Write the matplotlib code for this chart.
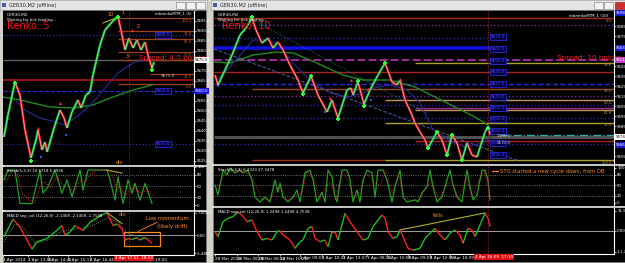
import numpy as np
import matplotlib
matplotlib.use('Agg')
import matplotlib.pyplot as plt
from matplotlib.collections import LineCollection
from matplotlib.patches import Rectangle
from matplotlib.transforms import blended_transform_factory

W, H = 625, 263
CHROME = '#d4d0c8'
ORANGE = '#ff8c1a'

# ---- left window: GER30 renko 5 ----
L_BARS = [1, 5, 12, 17, 22, 28, 33, 35, 39, 42, 44, 52, 57, 61, 64, 69, 75, 78, 83, 87,
          90, 97, 102, 109, 115, 119, 122, 126, 130, 134, 138, 142, 145, 149, 151]
L_PRICE = [9637, 9648, 9664.5, 9658, 9640.5, 9626.5, 9635.5, 9640.5, 9630.5, 9634.5,
           9629.5, 9643, 9650.5, 9646.5, 9641.5, 9649.5, 9655.5, 9651.5, 9658, 9659.5,
           9668, 9683, 9690.5, 9694.5, 9697.5, 9688, 9680.5, 9686.5, 9681.5, 9685.5,
           9680.5, 9684.5, 9678, 9671.5, 9674.5]
L_MA_FAST_BARS = [12, 22, 37, 52, 62, 72, 82, 92, 102, 109, 115, 122, 132, 142, 149]
L_MA_FAST = [9655.5, 9650.5, 9646.5, 9644.5, 9643, 9646.5, 9650.5, 9655.5, 9661.5,
             9665.5, 9669, 9671.5, 9674.5, 9675.5, 9676.5]
L_MA_SLOW_BARS = [0, 17, 47, 70, 90, 107, 130, 149]
L_MA_SLOW = [9657, 9655.5, 9652, 9651.5, 9653, 9656.5, 9660.5, 9663]
L_UP_BARS = [12, 28, 115, 149]
L_UP_PRICE = [9664, 9625, 9697, 9670.5]
L_DN_BARS = [57, 35, 129]
L_DN_PRICE = [9654, 9641.5, 9690.5]
L_DOT_BARS = [63, 38]
L_DOT_PRICE = [9638, 9627]
# price, colour, style, width, from bar, to bar
L_LEVELS = [
    (9688, '#2a2ab0', ':', 0.9, 0, 191),
    (9675.5, '#606060', '-', 1.0, 0, 191),
    (9665.5, '#9a1010', '-', 1.4, 0, 191),
    (9660, '#2a2ad0', '--', 0.8, 0, 191),
    (9633.5, '#2a2ab0', ':', 0.9, 0, 191),
    (9696.5, '#a04010', '-', 0.9, 115, 191),
    (9690, '#a04010', '-', 0.9, 115, 191),
    (9686, '#a04010', '-', 0.9, 115, 191),
    (9679.5, '#a04010', '-', 0.9, 115, 191),
    (9675.5, '#a04010', '-', 0.9, 115, 191),
    (9668.5, '#a04010', '-', 0.9, 147, 191),
    (9663.5, '#a04010', '-', 0.9, 115, 191),
]
L_FIB_PRICE = [9696.5, 9690, 9686, 9679.5, 9668.5, 9663.5]
L_FIB_TEXT = ['100.0', '76.4', '61.8', '50.0', '23.6', '0.0']
L_BOX_PRICE = [9688, 9660, 9633.5]
L_PRICE_TICKS = [9625, 9630, 9635, 9640, 9645, 9650, 9655, 9665, 9670, 9680, 9685,
                 9690, 9695]

L_STO_BARS = [1, 5, 12, 17, 29, 37, 40, 45, 52, 59, 64, 69, 77, 80, 85, 92, 104, 107,
              112, 115, 120, 125, 129, 132, 137, 142, 149]
L_STO = [66, 92, 92, 4, 4, 92, 31, 48, 92, 31, 66, 22, 92, 39, 92, 92, 92, 66, 13, 74,
         4, 66, 31, 57, 13, 57, 4]
L_SIG_BARS = [3, 7, 14, 19, 31, 39, 42, 47, 54, 61, 66, 71, 79, 82, 87, 94, 106, 109,
              114, 117, 122, 127, 131, 134, 139, 144, 151]
L_SIG = [60, 80, 92, 30, 4, 60, 60, 45, 75, 50, 50, 35, 70, 60, 80, 92, 92, 80, 40, 50,
         25, 40, 45, 40, 30, 40, 20]

L_MACD_BARS = [1, 10, 17, 29, 34, 39, 44, 52, 59, 62, 67, 72, 77, 80, 87, 97, 104, 110,
               114, 119, 122, 125, 129, 134, 137, 142, 149]
L_MACD = [-0.5, 5.0, 2.5, -4.3, -2.0, -1.5, -1.0, 1.0, 3.0, 0.0, 1.0, 3.0, 2.0, 1.5, 4.0,
          6.0, 7.0, 3.0, 3.5, 2.0, -1.5, -1.0, -1.3, -0.7, -1.5, -0.7, -2.5]
L_MACD_SIG_BARS = [1, 12, 20, 32, 45, 60, 75, 90, 105, 115, 125, 149]
L_MACD_SIG = [-2, 3.5, 2.5, -2.5, -1.5, 1.5, 2, 3, 5.5, 4, 0.5, -1.2]

L_TIME_BARS = [0, 25, 45, 65, 87, 140]
L_TIME_TEXT = ['4 Apr 2014', '4 Apr 13:06', '4 Apr 14:41', '4 Apr 15:17',
               '4 Apr 16:44', '4 Apr 19:00']

# ---- right window: GER30 renko 10 ----
R_BARS = [1, 4, 11, 18, 26, 32, 38, 42, 48, 54, 59, 64, 69, 76, 84, 89, 97, 104, 113, 118,
          124, 133, 137, 139, 144, 150, 156, 164, 171, 178, 183, 186, 191, 198, 201, 206,
          211, 214, 223, 228, 233, 238, 243, 248, 253, 258, 263, 271, 274, 276]
R_PRICE = [9636, 9626, 9641, 9656, 9676, 9683, 9693, 9681, 9668, 9673, 9663, 9669, 9661,
           9646, 9631, 9618, 9635, 9616, 9599, 9611, 9593, 9621, 9623, 9616, 9629, 9607,
           9621, 9636, 9648, 9629, 9626, 9631, 9611, 9596, 9588, 9579, 9571, 9563, 9579,
           9571, 9556, 9576, 9568, 9551, 9568, 9556, 9554, 9579, 9584, 9576]
R_MA_FAST_BARS = [3, 16, 39, 51, 63, 79, 96, 116, 133, 149, 163, 176, 193, 206, 218, 234,
                  251, 268, 276]
R_MA_FAST = [9631, 9644, 9671, 9671, 9668, 9648, 9631, 9618, 9614, 9618, 9624, 9626,
             9621, 9608, 9583, 9571, 9564, 9568, 9573]
R_MA_SLOW_BARS = [0, 16, 39, 63, 79, 96, 129, 149, 176, 201, 221, 241, 261, 274]
R_MA_SLOW = [9649, 9648, 9656, 9659, 9658, 9651, 9636, 9631, 9631, 9624, 9614, 9604,
             9594, 9586]
R_UP_BARS = [38, 89, 97, 124, 144, 150, 171, 214, 223, 233, 238, 248, 274]
R_UP_PRICE = [9694, 9617, 9635, 9592, 9630, 9605, 9648, 9563, 9579, 9556, 9576, 9551, 9583]
R_DN_BARS = [64, 116, 137, 154, 186]
R_DN_PRICE = [9669, 9613, 9631, 9622, 9632]
R_DOT_BARS = [4, 111, 157]
R_DOT_PRICE = [9625, 9599, 9611]
R_LEVELS = [
    (9693, '#a02a10', '-', 1.0, 0, 400),
    (9686, '#7a2a9a', ':', 1.0, 0, 400),
    (9673, '#2a2ab0', ':', 1.0, 0, 276),
    (9663, '#1010d8', '-', 2.6, 0, 276),
    (9651, '#9a2a9a', '--', 1.5, 0, 400),
    (9648, '#b0a020', '-', 1.0, 201, 400),
    (9639, '#a82020', '-', 1.0, 0, 400),
    (9627, '#2a2ae0', '--', 1.0, 0, 400),
    (9622, '#9a4a13', '-', 1.0, 38, 400),
    (9615, '#7a2a9a', ':', 1.0, 0, 400),
    (9611, '#c09060', '-', 1.0, 171, 400),
    (9606, '#2a2ab0', ':', 1.0, 0, 400),
    (9603, '#9a2a9a', '-', 1.0, 201, 400),
    (9601, '#c09060', '-', 1.0, 201, 400),
    (9593, '#2a2ab0', ':', 1.0, 0, 400),
    (9588, '#b0a020', '-', 1.0, 171, 400),
    (9574, '#505050', '-', 2.2, 0, 400),
    (9576, '#20b0b0', '-.', 0.9, 286, 400),
    (9570, '#a82020', '-', 1.0, 201, 400),
    (9567, '#2a2ab0', ':', 1.0, 0, 400),
    (9551, '#a02a10', '-', 1.0, 38, 171),
    (9551, '#b0a020', '-', 1.0, 171, 400),
]
R_FIB_PRICE = [9693, 9648, 9622, 9611, 9601, 9588, 9551]
R_FIB_TEXT = ['0.0', '23.6', '38.2', '50.0', '61.8', '76.4', '100.0']
R_BOX_PRICE = [9674, 9662, 9650, 9639, 9627, 9614, 9603, 9592, 9580, 9568, 9556]
R_PRICE_TICKS = [9555, 9585, 9595, 9605, 9615, 9625, 9635, 9645, 9675, 9685]
R_TREND_BARS = [0, 305]
R_TREND = [9662, 9550]
R_TREND2_BARS = [39, 216]
R_TREND2 = [9691, 9596]

R_STO_BARS = [1, 4, 9, 13, 16, 21, 26, 29, 34, 38, 41, 46, 51, 56, 58, 61, 64, 66, 69, 74,
              79, 83, 86, 91, 96, 99, 103, 108, 111, 114, 118, 121, 123, 128, 133, 136,
              139, 143, 146, 149, 153, 158, 161, 164, 169, 173, 178, 181, 186, 189, 193,
              201, 204, 208, 213, 216, 219, 223, 228, 233, 236, 239, 243, 248, 253, 256,
              259, 263, 268, 271, 274, 276]
R_STO = [51, 23, 94, 80, 100, 86, 94, 86, 94, 66, 17, 3, 17, 3, 29, 66, 31, 57, 17, 3,
         17, 37, 3, 86, 94, 66, 3, 31, 3, 94, 74, 17, 3, 94, 94, 66, 3, 37, 3, 66,
         94, 86, 17, 94, 94, 66, 3, 46, 94, 17, 3, 9, 3, 29, 46, 94, 46, 3, 17, 66,
         94, 51, 17, 3, 94, 46, 9, 23, 94, 94, 66, 9]
R_SIG_BARS = [3, 11, 18, 27, 33, 40, 48, 56, 62, 67, 73, 80, 88, 93, 100, 106, 112, 117,
              122, 128, 135, 140, 147, 152, 160, 166, 172, 178, 185, 190, 198, 206, 212,
              218, 225, 232, 238, 245, 252, 258, 264, 270, 276]
R_SIG = [40, 85, 92, 90, 88, 60, 10, 8, 40, 45, 10, 15, 30, 88, 70, 10, 50, 60, 10, 90,
         60, 10, 40, 85, 60, 50, 94, 30, 80, 20, 6, 10, 45, 60, 10, 50, 60, 10, 70, 20,
         60, 90, 30]

R_MACD_BARS = [1, 4, 9, 14, 19, 24, 28, 33, 38, 43, 48, 53, 58, 63, 66, 69, 76, 81, 86, 89,
               94, 98, 101, 106, 111, 114, 118, 121, 124, 131, 136, 143, 149, 154, 159,
               168, 171, 174, 179, 183, 186, 189, 194, 199, 206, 211, 216, 221, 226, 231,
               236, 241, 246, 249, 254, 258, 261, 266, 271, 274, 276]
R_MACD = [-0.4, -3.2, 5.3, 7.2, 8.2, 11.0, 9.1, 5.3, 6.3, -0.4, -5.1, -4.2, -5.1, -0.4,
          0.2, -2.3, -5.1, -9.9, -6.1, -5.1, 1.5, 2.5, -4.2, -6.1, -5.1, -9.0, -0.4, -0.4,
          -5.1, 10.1, 5.3, -0.4, -5.1, -4.2, 2.5, 9.1, 7.3, -0.4, -4.2, -3.2, 0.6, -3.2,
          -9.9, -10.9, -9.9, -4.2, -1.3, 1.5, -2.3, -5.1, -1.3, 0.6, -2.3, -7.0, 1.5, 0.6,
          -3.2, 3.4, 10.1, 7.3, 2.5]

R_TIME_BARS = [1, 23, 44, 66, 86, 108, 129, 153, 173, 194, 216, 236]
R_TIME_TEXT = ['28 Mar 2014', '28 Mar 08:08', '28 Mar 08:52', '28 Mar 10:22',
               '1 Apr 09:06', '1 Apr 10:41', '2 Apr 13:07', '3 Apr 08:50',
               '3 Apr 10:50', '4 Apr 09:05', '4 Apr 12:59', '4 Apr 14:09']


def px_rect(x0, y0, x1, y1):
    return [x0 / W, 1 - y1 / H, (x1 - x0) / W, (y1 - y0) / H]


def panel(fig, box, xmax, ylim):
    ax = fig.add_axes(px_rect(*box))
    ax.set_facecolor('black')
    ax.set_xlim(0, xmax)
    ax.set_ylim(*ylim)
    for s in ax.spines.values():
        s.set_visible(False)
    ax.spines['right'].set_visible(True)
    ax.spines['right'].set_color('white')
    ax.spines['right'].set_linewidth(0.8)
    ax.yaxis.tick_right()
    ax.tick_params(axis='y', colors='white', labelsize=2.8, length=1.5, width=0.5, pad=0.8)
    ax.set_xticks([])
    return ax


def colored(ax, x, y, lw, up_c, dn_c, ls='-'):
    x = np.asarray(x, float)
    y = np.asarray(y, float)
    pts = np.column_stack([x, y])
    segs = np.stack([pts[:-1], pts[1:]], axis=1)
    cols = [up_c if d > 0 else dn_c for d in np.diff(y)]
    ax.add_collection(LineCollection(segs, colors=cols, linewidths=lw, linestyles=ls))


def renko(ax, x, y, lw):
    colored(ax, x, y, lw, '#18c818', '#ee2020')
    colored(ax, x, y, 0.45, '#90dcff', '#ffc0c0')


def tag(ax, price, s, fc, color='white'):
    tr = blended_transform_factory(ax.transAxes, ax.transData)
    ax.text(1.004, price, s, transform=tr, fontsize=2.8, color=color, va='center',
            bbox=dict(boxstyle='square,pad=0.15', fc=fc, ec='none'))


def blue_box(ax, x, price):
    ax.text(x, price, f'{price:.1f}', fontsize=3.0, color='#4848ff', va='center',
            bbox=dict(boxstyle='square,pad=0.2', fc='#00003a', ec='#3030ff', lw=0.5))


def levels(ax, rows):
    for price, c, ls, lw, x0, x1 in rows:
        ax.hlines(price, x0, x1, colors=c, linestyles=ls, linewidths=lw)


def time_axis(ax, bars, texts):
    ax.set_xticks(bars)
    ax.set_xticklabels(texts)
    ax.tick_params(axis='x', colors='white', labelsize=3.0, length=1.2, width=0.5, pad=0.6)
    for t in ax.get_xticklabels():
        t.set_ha('left')
    ax.spines['bottom'].set_visible(True)
    ax.spines['bottom'].set_color('white')
    ax.spines['bottom'].set_linewidth(0.8)


def chrome(fig):
    ax = fig.add_axes([0, 0, 1, 1])
    ax.set_xlim(0, W)
    ax.set_ylim(H, 0)
    ax.axis('off')
    for x0, x1 in [(0, 207), (211, 625)]:
        ax.add_patch(Rectangle((x0, 0), x1 - x0, 10, fc='#e4e4e4', ec='#a8a8a8', lw=0.5))
        ax.add_patch(Rectangle((x0 + 2, 3), 4, 4, fc='#4060a0', ec='none'))
        ax.text(x0 + 9, 5.2, 'GER30,M2 (offline)', fontsize=3.6, color='#202020', va='center')
    for bx in [176, 186, 196, 594, 604]:
        ax.add_patch(Rectangle((bx, 2), 9, 6.5, fc='#f2f2f2', ec='#909090', lw=0.5))
    ax.add_patch(Rectangle((615, 2), 10, 6.5, fc='#d03030', ec='#903030', lw=0.5))
    ax.add_patch(Rectangle((3, 10), 203, 252, fc='black', ec='#808080', lw=0.5))
    ax.add_patch(Rectangle((213, 10), 412, 252, fc='black', ec='#808080', lw=0.5))
    ax.plot([3, 206], [166, 166], color='white', lw=1.1)
    ax.plot([3, 206], [211, 211], color='white', lw=1.1)
    ax.plot([213, 625], [165, 165], color='white', lw=1.1)
    ax.plot([213, 625], [207, 207], color='white', lw=1.1)


def left_window(fig):
    xmax = 191
    ax = panel(fig, (3, 11, 194, 165), xmax, (9623, 9700))
    ax.set_yticks(L_PRICE_TICKS)
    ax.set_yticklabels([f'{v:.1f}' for v in L_PRICE_TICKS])
    levels(ax, L_LEVELS)
    for p, s in zip(L_FIB_PRICE, L_FIB_TEXT):
        ax.text(189, p - 0.3, s, fontsize=2.6, color='#c06020', ha='right', va='top')
    for p in L_BOX_PRICE:
        blue_box(ax, 153, p)
    ax.plot(L_MA_SLOW_BARS, L_MA_SLOW, color='#208a20', lw=1.0)
    ax.plot(L_MA_FAST_BARS, L_MA_FAST, color='#2a2a9a', lw=0.8)
    ax.plot([100, 115], [9694, 9697], color='#b0b020', lw=0.8)
    renko(ax, L_BARS, L_PRICE, 1.7)
    ax.scatter(L_UP_BARS, L_UP_PRICE, marker='P', s=9, color='#30ff30', lw=0, zorder=5)
    ax.scatter(L_DN_BARS, L_DN_PRICE, marker='^', s=5, color='#ff3030', lw=0, zorder=5)
    ax.scatter(L_DOT_BARS, L_DOT_PRICE, marker='s', s=3, color='#3050ff', lw=0, zorder=5)
    ax.axvline(126, color='#c02020', ls=':', lw=0.7)
    ax.text(0.02, 0.985, 'GER30,M2', transform=ax.transAxes, fontsize=3.0, color='white', va='top')
    ax.text(0.02, 0.955, 'Waiting for tick loading...', transform=ax.transAxes,
            fontsize=2.8, color='white', va='top')
    ax.text(0.02, 0.935, 'Renko: 5', transform=ax.transAxes, fontsize=7, color='#ff1010', va='top')
    ax.text(0.99, 0.995, 'mbrenkoRTM_1 (5)', transform=ax.transAxes, fontsize=2.8,
            color='white', va='top', ha='right')
    ax.text(136, 9676.5, 'Spread: 4.0 points', fontsize=5.2, color='#ff1a1a', va='center')
    ax.text(158, 9667.5, '9675.0', fontsize=3.0, color='#c0c0c0', va='center')
    ax.text(105, 9698, '10', fontsize=3.6, color=ORANGE, va='center')
    ax.text(119, 9699, '1', fontsize=3.6, color=ORANGE, va='center')
    ax.text(134, 9692.5, '2', fontsize=3.6, color=ORANGE, va='center')
    ax.text(123, 9677, '3', fontsize=3.6, color=ORANGE, va='center')
    ax.text(113, 9624.5, 'div', fontsize=3.6, color=ORANGE, va='center')
    tag(ax, 9675.5, '9675.5', '#ffffff', color='black')
    tag(ax, 9660, '9660.0', '#1a1ad0')

    st = panel(fig, (3, 167, 194, 210), xmax, (-13, 100))
    st.set_yticks([0, 20, 50, 80, 100])
    for lv in [20, 50, 80]:
        st.axhline(lv, color='#909090', ls=':', lw=0.6)
    st.plot(L_STO_BARS, L_STO, color='#22a022', lw=0.9)
    st.plot(L_SIG_BARS, L_SIG, color='#ff3030', ls=':', lw=0.7)
    st.plot([104, 119], [92, 84], color='#b0b020', lw=0.8)
    st.axvline(126, color='#c02020', ls=':', lw=0.7)
    st.text(0.02, 0.95, 'Stoch(5,3,3) 10.5714 5.2936', transform=st.transAxes,
            fontsize=2.8, color='white', va='top')

    mc = panel(fig, (3, 212, 194, 255), xmax, (-6.1, 7.2))
    mc.set_yticks([-5.5, 0, 7])
    mc.set_yticklabels(['-5.4866', '0.00', '7.0000'])
    mc.axhline(0, color='#a0a0a0', lw=0.7)
    mc.plot(L_MACD_SIG_BARS, L_MACD_SIG, color='#a0a0a0', ls=':', lw=0.6)
    colored(mc, L_MACD_BARS, L_MACD, 1.0, '#20c020', '#ff2020')
    mc.plot([104, 119], [7.0, 3.6], color='#b0b020', lw=0.8)
    mc.text(116, 6.4, 'div', fontsize=3.6, color=ORANGE, va='center')
    mc.add_patch(Rectangle((121, -3.3), 36, 4.2, fill=False, ec=ORANGE, lw=0.9))
    mc.plot([154, 135], [4.0, 1.2], color=ORANGE, lw=0.6)
    mc.text(143, 5.2, 'Low momentum', fontsize=3.8, color=ORANGE, va='center')
    mc.text(154, 2.7, '(likely drift)', fontsize=3.8, color=ORANGE, va='center')
    mc.axvline(126, color='#c02020', ls=':', lw=0.7)
    mc.text(0.02, 0.96, 'MACD sep_col (12,26,9) -2.1458 -2.1458 -1.7548',
            transform=mc.transAxes, fontsize=2.8, color='white', va='top')
    time_axis(mc, L_TIME_BARS, L_TIME_TEXT)
    mc.text(112, -6.5, '4 Apr 17:51  18:50', fontsize=3.0, color='white', va='top',
            bbox=dict(boxstyle='square,pad=0.15', fc='#e01010', ec='none'))


def right_window(fig):
    xmax = 400
    ax = panel(fig, (214, 11, 614, 164), xmax, (9547, 9700))
    ax.set_yticks(R_PRICE_TICKS)
    ax.set_yticklabels([f'{v:.1f}' for v in R_PRICE_TICKS])
    levels(ax, R_LEVELS)
    ax.plot(R_TREND_BARS, R_TREND, color='#5060a0', ls='--', lw=0.7)
    ax.plot(R_TREND2_BARS, R_TREND2, color='#208080', ls=':', lw=0.7)
    for p, s in zip(R_FIB_PRICE, R_FIB_TEXT):
        ax.text(398, p - 0.5, s, fontsize=2.6, color='#c09040', ha='right', va='top')
    for p in R_BOX_PRICE:
        blue_box(ax, 277, p)
    ax.plot(R_MA_SLOW_BARS, R_MA_SLOW, color='#208a20', lw=1.0)
    ax.plot(R_MA_FAST_BARS, R_MA_FAST, color='#2a2a9a', lw=0.8)
    renko(ax, R_BARS, R_PRICE, 1.6)
    ax.scatter(R_UP_BARS, R_UP_PRICE, marker='P', s=9, color='#30ff30', lw=0, zorder=5)
    ax.scatter(R_DN_BARS, R_DN_PRICE, marker='^', s=5, color='#ff3030', lw=0, zorder=5)
    ax.scatter(R_DOT_BARS, R_DOT_PRICE, marker='s', s=3, color='#3050ff', lw=0, zorder=5)
    ax.axvline(274, color='#c02020', ls=':', lw=0.7)
    ax.text(0.01, 0.985, 'GER30,M2', transform=ax.transAxes, fontsize=3.0, color='white', va='top')
    ax.text(0.01, 0.955, 'Waiting for tick loading...', transform=ax.transAxes,
            fontsize=2.8, color='white', va='top')
    ax.text(0.02, 0.935, 'Renko: 10', transform=ax.transAxes, fontsize=7, color='#ff1010', va='top')
    ax.text(0.985, 0.985, 'mbrenkoRTM_1 (10)', transform=ax.transAxes, fontsize=2.8,
            color='white', va='top', ha='right')
    ax.text(343, 9653, 'Spread: 10 points', fontsize=5.2, color='#ff1a1a', va='center')
    ax.text(283, 9575, '9580.0', fontsize=3.0, color='#c0c0c0', va='center')
    ax.text(283, 9568, '9570.0', fontsize=3.0, color='#c0c0c0', va='center')
    tag(ax, 9698, '9698.0', '#1a1ad0')
    tag(ax, 9663, '9663.0', '#1a1ad0')
    tag(ax, 9651, '9651.0', '#c040c0')
    tag(ax, 9574, '9574.0', '#ffffff', color='black')
    tag(ax, 9566, '9566.0', '#1a1ad0')

    st = panel(fig, (214, 166, 614, 206), xmax, (-8.6, 105.7))
    st.set_yticks([0, 20, 50, 80, 100])
    for lv in [20, 50, 80]:
        st.axhline(lv, color='#909090', ls=':', lw=0.6)
    st.plot(R_STO_BARS, R_STO, color='#22a022', lw=0.9)
    st.plot(R_SIG_BARS, R_SIG, color='#ff3030', ls=':', lw=0.6)
    st.axvline(274, color='#c02020', ls=':', lw=0.7)
    st.plot([278, 284], [91, 91], color=ORANGE, lw=0.8)
    st.text(286, 91, 'STO started a new cycle down, from OB', fontsize=3.8,
            color=ORANGE, va='center')
    st.text(0.01, 0.95, 'Stoch(5,3,3) 6.2323 27.3478', transform=st.transAxes,
            fontsize=2.8, color='white', va='top')

    mc = panel(fig, (214, 208, 614, 254), xmax, (-13.1, 13.1))
    mc.set_yticks([-11.7, 0, 11.5])
    mc.set_yticklabels(['-11.7488', '0.00', '11.5163'])
    mc.axhline(0, color='#a0a0a0', lw=0.7)
    colored(mc, R_MACD_BARS, R_MACD, 1.0, '#20c020', '#ff2020')
    mc.plot([186, 271], [0.6, 10.3], color='#b0b020', lw=0.8)
    mc.text(219, 9.1, 'falls', fontsize=3.8, color=ORANGE, va='center')
    mc.axvline(274, color='#c02020', ls=':', lw=0.7)
    mc.text(0.01, 0.96, 'MACD sep_col (12,26,9) 1.2498 1.2498 4.7538',
            transform=mc.transAxes, fontsize=2.8, color='white', va='top')
    time_axis(mc, R_TIME_BARS, R_TIME_TEXT)
    mc.text(261, -13.7, '4 Apr 16:09  17:10', fontsize=3.0, color='white', va='top',
            bbox=dict(boxstyle='square,pad=0.15', fc='#e01010', ec='none'))


def main():
    fig = plt.figure(figsize=(6.25, 2.63), dpi=100, facecolor=CHROME)
    chrome(fig)
    left_window(fig)
    right_window(fig)
    fig.savefig('out.png', dpi=100, facecolor=CHROME)


if __name__ == '__main__':
    main()
